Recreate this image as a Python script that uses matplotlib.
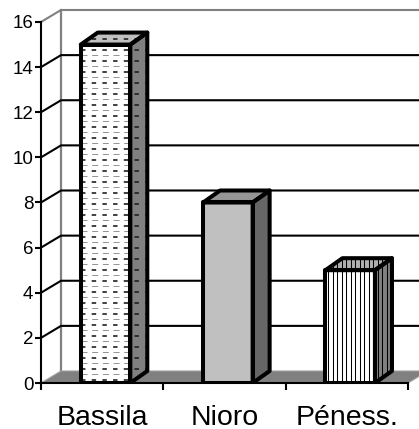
import matplotlib
matplotlib.use('Agg')
import matplotlib.pyplot as plt
from matplotlib.patches import Polygon
from matplotlib.lines import Line2D
import numpy as np

categories = ['Bassila', 'Nioro', 'Péness.']
values = [15, 8, 5]
yticks = [0, 2, 4, 6, 8, 10, 12, 14, 16]

plt.rcParams['font.family'] = ['Liberation Sans', 'DejaVu Sans']
plt.rcParams['lines.scale_dashes'] = False

W, H = 419, 429
fig = plt.figure(figsize=(W / 100, H / 100), dpi=100)
fig.patch.set_facecolor('white')
ax = fig.add_axes([41 / W, 46 / H, 367 / W, 361 / H])
ax.set_xlim(0, 3)
ax.set_ylim(0, 16)
ax.set_facecolor('none')

PX = 367 / 3.0      # pixels per category unit
PY = 361 / 16.0     # pixels per value unit
DXW, DYW = 20 / PX, 12 / PY   # wall depth
DXB, DYB = 17 / PX, 12 / PY   # bar depth

# back wall
wall = Polygon([(DXW, DYW), (3 + DXW, DYW), (3 + DXW, 16 + DYW), (DXW, 16 + DYW)],
               closed=True, fc='white', ec='none', clip_on=False, zorder=0.5)
ax.add_patch(wall)
ax.add_line(Line2D([DXW, DXW], [DYW, 16 + DYW], color='#808080', lw=1.6, clip_on=False, zorder=0.6))
# gridlines on side + back wall
for v in yticks[1:]:
    c = '#808080' if v == yticks[-1] else 'black'
    ax.add_line(Line2D([0, DXW, 3 + DXW], [v, v + DYW, v + DYW], color=c, lw=1.5,
                       clip_on=False, zorder=0.7, solid_capstyle='butt'))
# floor
floor = Polygon([(0, 0), (3, 0), (3 + DXW, DYW), (DXW, DYW)], closed=True,
                fc='#808080', ec='#a0a0a0', lw=0.8, clip_on=False, zorder=0.8)
ax.add_patch(floor)

left_off, bw = 0.325, 0.405
face_styles = [
    dict(front='white', side='#808080', top='#c0c0c0', pat='dash'),
    dict(front='#c0c0c0', side='#666666', top='#969696', pat=None),
    dict(front='white', side='#808080', top='#b0b0b0', pat='vline'),
]


def add_pattern(patch, kind, xs, ys):
    x0, x1 = xs
    y0, y1 = ys
    if kind == 'dash':
        step = 5.5 / PY
        k = 0
        y = y0 + step * 0.6
        while y < y1:
            if k % 2 == 0:
                ln = Line2D([x0, x1], [y, y], color='#202020', lw=1.2,
                            dashes=(3.2, 4.5), dash_capstyle='butt', zorder=1.1)
            else:
                ln = Line2D([x0, x1], [y, y], color='#808080', lw=0.6,
                            dashes=(4.3, 3.4), dash_capstyle='butt', zorder=1.1)
            ax.add_line(ln)
            ln.set_clip_path(patch)
            y += step
            k += 1
    elif kind == 'vline':
        step = 4.5 / PX
        x = x0 + step * 0.6
        while x < x1:
            ln = Line2D([x, x], [y0, y1], color='black', lw=0.75, zorder=1.1)
            ax.add_line(ln)
            ln.set_clip_path(patch)
            x += step


for i, (v, st) in enumerate(zip(values, face_styles)):
    x0 = i + left_off
    x1 = x0 + bw
    front = Polygon([(x0, 0), (x1, 0), (x1, v), (x0, v)], closed=True,
                    fc=st['front'], ec='none', zorder=1)
    side = Polygon([(x1, 0), (x1 + DXB, DYB), (x1 + DXB, v + DYB), (x1, v)], closed=True,
                   fc=st['side'], ec='none', zorder=1)
    top = Polygon([(x0, v), (x1, v), (x1 + DXB, v + DYB), (x0 + DXB, v + DYB)], closed=True,
                  fc=st['top'], ec='none', zorder=1)
    for p in (front, side, top):
        ax.add_patch(p)
        if st['pat']:
            add_pattern(p, st['pat'], (x0, x1 + DXB), (0, v + DYB))
    # outlines
    for p in (front, side, top):
        q = Polygon(p.get_xy(), closed=True, fc='none', ec='black', lw=2.9,
                    joinstyle='round', zorder=1.5)
        ax.add_patch(q)

# axes styling
for s in ['top', 'right']:
    ax.spines[s].set_visible(False)
ax.spines['left'].set_linewidth(1.5)
ax.spines['bottom'].set_linewidth(1.5)
ax.set_yticks(yticks)
ax.set_yticklabels([str(t) for t in yticks], fontsize=13.5)
ax.tick_params(axis='y', length=4, width=1.5, pad=1.5, direction='out')
ax.set_xticks([0.5, 1.5, 2.5])
ax.set_xticklabels(categories, fontsize=20.5)
ax.set_xticks([0, 1, 2, 3], minor=True)
ax.tick_params(axis='x', which='major', length=0, pad=15.5)
ax.tick_params(axis='x', which='minor', length=5, width=1.5, direction='out')

fig.savefig('out.png', dpi=100)
